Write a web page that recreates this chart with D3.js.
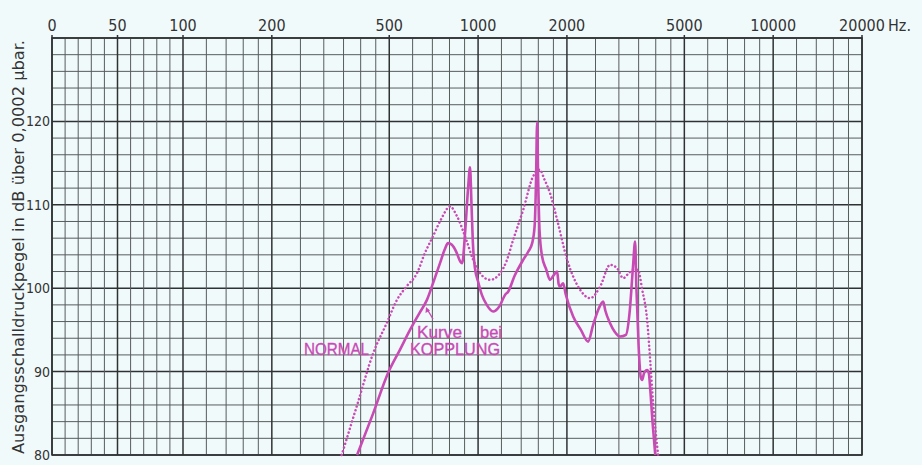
<!DOCTYPE html>
<html>
<head>
<meta charset="utf-8">
<script src="https://cdn.jsdelivr.net/npm/d3@7"></script>
<style>
  html, body { margin: 0; padding: 0; background: #f1fafb; }
  svg { display: block; }
  text { font-family: "Liberation Sans Narrow", "DejaVu Sans Condensed", "Liberation Sans", sans-serif; fill: #333; }
</style>
</head>
<body>
<svg id="chart" width="922" height="465"></svg>
<script>
// ---- tick labels & grid values ----
const xTickLabels = [0, 50, 100, 200, 500, 1000, 2000, 5000, 10000, 20000];
const xMinorGrid = [10, 20, 30, 40, 60, 70, 80, 90,
  120, 140, 160, 180, 250, 300, 350, 400, 450,
  600, 700, 800, 900, 1200, 1400, 1600, 1800,
  2500, 3000, 3500, 4000, 4500, 6000, 7000, 8000, 9000,
  12000, 14000, 16000, 18000];
const yTickLabels = [80, 90, 100, 110, 120];
const yGridStep = 2;
const yDomain = [80, 130];

// ---- series: "Kurve bei KOPPLUNG" (solid) ----
const kopplungFreq = [389, 440, 495, 545, 588, 630, 671, 710, 743, 770, 791, 815, 845, 870, 883,
  905, 925, 939, 950, 960, 975, 1000, 1030, 1070, 1125, 1180, 1240, 1260, 1330, 1422, 1480, 1525,
  1555, 1572, 1585, 1598, 1615, 1648, 1700, 1753, 1800, 1853, 1875, 1896, 1942, 1980, 2100, 2230,
  2360, 2450, 2560, 2654, 2700, 2801, 2900, 3029, 3170, 3260, 3350, 3405, 3440, 3500, 3560, 3597,
  3650, 3740, 3790, 3830, 3900, 3985];
const kopplungDb = [80, 84.9, 89.8, 92.7, 95, 96.9, 98.6, 101, 103, 104.6, 105.4, 105.2, 104.3, 103.2, 103,
  107, 112, 114.5, 110, 105.5, 102.5, 100.8, 99.2, 98, 97.2, 97.8, 99.3, 99.5, 101.5, 103.4, 104.4, 105.4,
  107.5, 113, 119.9, 113, 107, 103.8, 102.3, 101, 101.5, 102, 100.5, 100.2, 100.6, 99.3, 96.6, 95,
  93.6, 95.5, 97.5, 98.4, 97.3, 95.8, 94.8, 94.2, 94.4, 97, 102.6, 105.6, 100, 93, 89.3, 89,
  89.8, 90.2, 89.8, 88, 84, 80];

// ---- series: "NORMAL" (dotted) ----
const normalFreq = [345, 390, 441, 490, 531, 575, 621, 660, 703, 750, 804, 849, 918, 960, 1016,
  1098, 1188, 1250, 1315, 1422, 1536, 1618, 1680, 1753, 1853, 2004, 2218, 2398, 2592, 2801, 2958,
  3103, 3220, 3351, 3480, 3600, 3740, 3830, 3920, 4075];
const normalDb = [80, 86.1, 92.2, 95.8, 98.6, 100.3, 101.8, 104.2, 106.2, 108.3, 109.8, 108.6, 105.5, 103.5, 101.8,
  101, 101.8, 103.3, 105.8, 109.4, 113.4, 114.2, 113, 111.4, 108.2, 103.4, 99.8, 98.8, 100.2, 102.8, 102.4,
  101.2, 101.7, 102.2, 102.2, 99.8, 96.2, 91.4, 86.2, 80];

const labels = {
  yTitle: "Ausgangsschalldruckpegel  in dB über 0,0002 μbar.",
  unit: "Hz.",
  normal: "NORMAL",
  kurve: "Kurve",
  bei: "bei",
  kopplung: "KOPPLUNG"
};

const curveColor = "#c84ab4";

// ---- scales: linear 0..100 Hz, logarithmic 100..20000 Hz ----
const gLeft = 52, gSplit = 183, gRight = 862, gTop = 38, gBottom = 455;
const xLin = d3.scaleLinear().domain([0, 100]).range([gLeft, gSplit]);
const xLog = d3.scaleLog().domain([100, 20000]).range([gSplit, gRight]);
const x = f => (f <= 100 ? xLin(f) : xLog(f));
const y = d3.scaleLinear().domain(yDomain).range([gBottom, gTop]);

const svg = d3.select("#chart");
svg.append("rect").attr("width", 922).attr("height", 465).attr("fill", "#f1fafb");

const grid = svg.append("g");
const yGrid = d3.range(yDomain[0], yDomain[1] + 0.001, yGridStep);
grid.selectAll("line.h").data(yGrid).join("line")
  .attr("x1", gLeft).attr("x2", gRight)
  .attr("y1", d => y(d)).attr("y2", d => y(d))
  .attr("stroke", d => (d % 10 === 0 ? "#2f3233" : "#575c5d"))
  .attr("stroke-width", d => (d % 10 === 0 ? 1.5 : 1));
grid.selectAll("line.vm").data(xMinorGrid).join("line")
  .attr("x1", d => x(d)).attr("x2", d => x(d))
  .attr("y1", gTop).attr("y2", gBottom)
  .attr("stroke", "#575c5d").attr("stroke-width", 1);
grid.selectAll("line.vM").data(xTickLabels).join("line")
  .attr("x1", d => x(d)).attr("x2", d => x(d))
  .attr("y1", gTop - 3).attr("y2", gBottom)
  .attr("stroke", "#2f3233").attr("stroke-width", 1.5);
grid.append("rect").attr("x", gLeft).attr("y", gTop)
  .attr("width", gRight - gLeft).attr("height", gBottom - gTop)
  .attr("fill", "none").attr("stroke", "#2f3233").attr("stroke-width", 1.5);

// top axis labels
svg.append("g").selectAll("text").data(xTickLabels).join("text")
  .attr("x", d => x(d)).attr("y", 31)
  .attr("text-anchor", "middle")
  .attr("font-size", 16)
  .text(d => d);
svg.append("text").attr("x", x(20000) + 26).attr("y", 31)
  .attr("font-size", 16).text(labels.unit);

// left axis labels
svg.append("g").selectAll("text").data(yTickLabels).join("text")
  .attr("x", 50).attr("y", d => y(d) + 5)
  .attr("text-anchor", "end")
  .attr("font-size", 14)
  .text(d => d);

// y title
svg.append("text")
  .attr("transform", "translate(24,247) rotate(-90)")
  .attr("text-anchor", "middle")
  .attr("font-size", 15)
  .attr("textLength", 414)
  .attr("lengthAdjust", "spacingAndGlyphs")
  .text(labels.yTitle);

// curves
const line = d3.line().x(d => x(d[0])).y(d => y(d[1])).curve(d3.curveMonotoneX);
const normalData = normalFreq.map((f, i) => [f, normalDb[i]]);
const kopplungData = kopplungFreq.map((f, i) => [f, kopplungDb[i]]);

svg.append("path").datum(normalData)
  .attr("d", line).attr("fill", "none")
  .attr("stroke", curveColor).attr("stroke-width", 2.5)
  .attr("stroke-dasharray", "0.1,3.8").attr("stroke-linecap", "round");

svg.append("path").datum(kopplungData)
  .attr("d", line).attr("fill", "none")
  .attr("stroke", curveColor).attr("stroke-width", 2.6)
  .attr("stroke-linejoin", "round");

// annotations
const ann = svg.append("g");
const annFont = "'Liberation Sans', Arial, sans-serif";
function annText(tx, ty, txt, len) {
  const t = ann.append("text").attr("x", tx).attr("y", ty).attr("font-size", 16)
    .style("font-family", annFont).style("fill", curveColor)
    .attr("stroke", curveColor).attr("stroke-width", 0.35)
    .text(txt);
  if (len) t.attr("textLength", len).attr("lengthAdjust", "spacingAndGlyphs");
  return t;
}
annText(304, 355, labels.normal, 65);
annText(417, 338, labels.kurve, 45);
annText(480, 338, labels.bei, 22);
annText(410, 355, labels.kopplung, 90);
ann.append("line").attr("x1", 433).attr("y1", 319).attr("x2", 427).attr("y2", 309)
  .attr("stroke", curveColor).attr("stroke-width", 1.4);
ann.append("path").attr("d", "M426,307 L425.5,313 L430,310.5 Z").attr("fill", curveColor);
</script>
</body>
</html>
